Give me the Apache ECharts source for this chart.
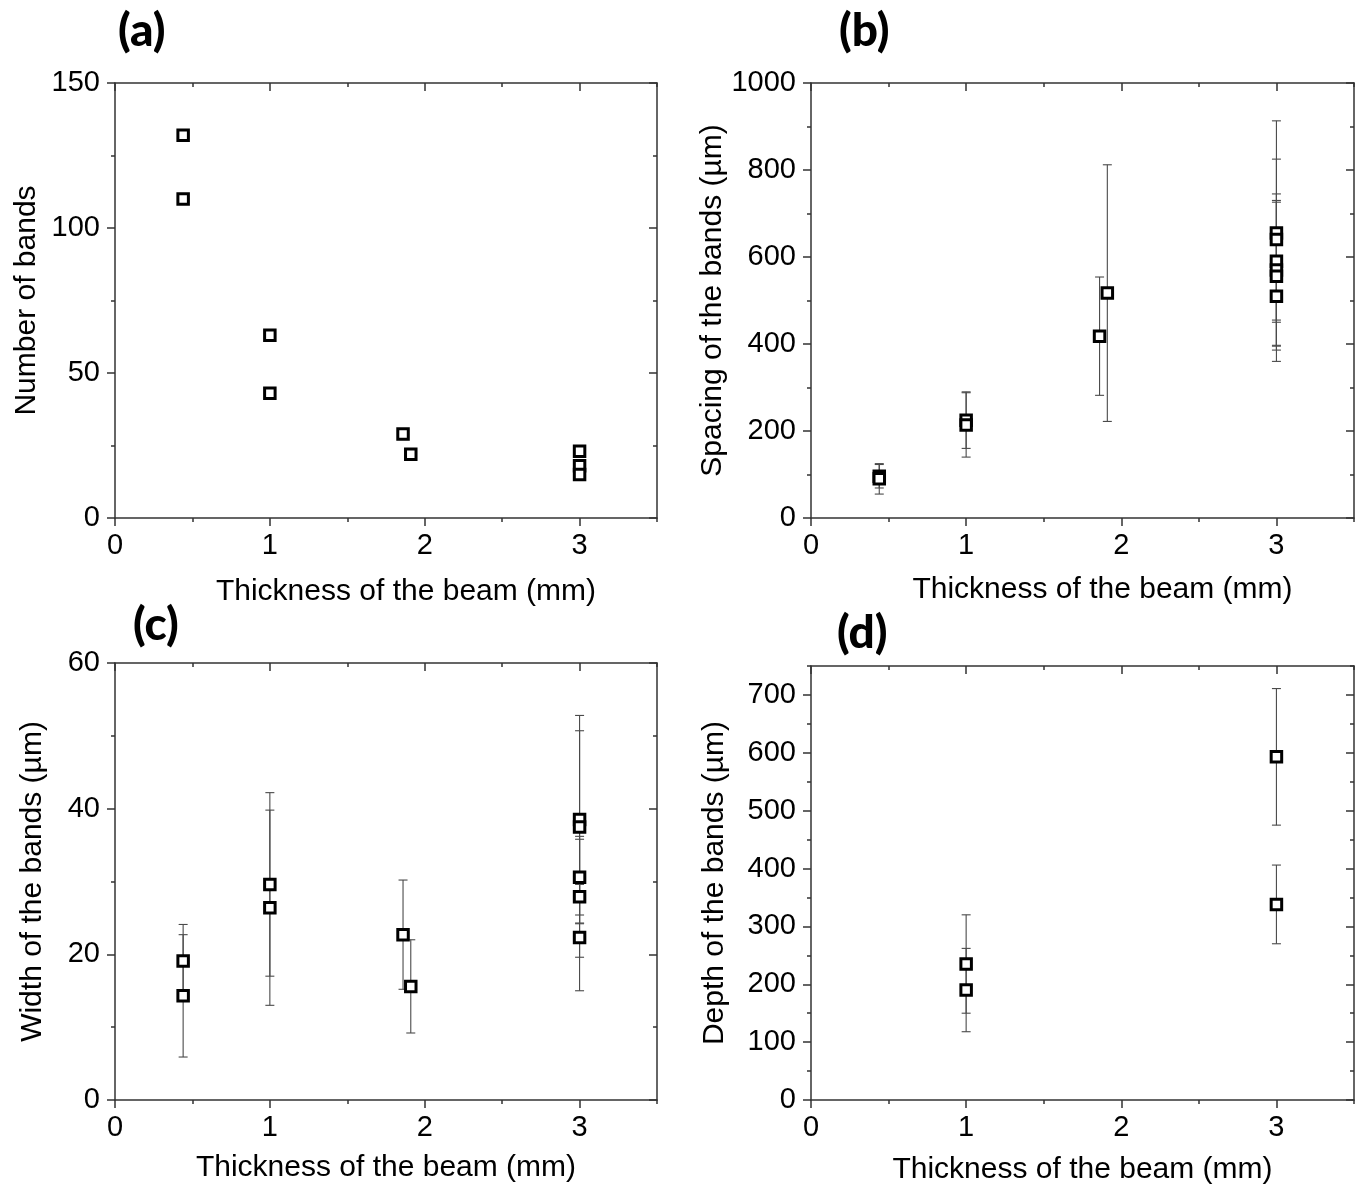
<!DOCTYPE html>
<html>
<head>
<meta charset="utf-8">
<title>Band measurements vs beam thickness</title>
<script src="https://cdn.jsdelivr.net/npm/echarts@6/dist/echarts.min.js"></script>
<style>
  html, body { margin: 0; padding: 0; background: #fff; }
  #chart { width: 1366px; height: 1187px; }
</style>
</head>
<body>
<div id="chart"></div>
<script>
// ---- data ----
// (a) number of bands
const aThickness = [0.44, 0.44, 1, 1, 1.86, 1.91, 3, 3, 3];
const aBands = [132, 110, 63, 43, 29, 22, 23, 18, 15];

// (b) spacing of the bands (µm), with standard deviation
const bThickness = [0.44, 0.44, 1, 1, 1.86, 1.91, 3, 3, 3, 3, 3, 3];
const bSpacing = [96, 90, 225, 214, 418, 517, 655, 640, 590, 570, 556, 510];
const bSpacingErr = [27, 35, 65, 74, 136, 295, 258, 185, 140, 175, 170, 150];

// (c) width of the bands (µm), with standard deviation
const cThickness = [0.44, 0.44, 1, 1, 1.86, 1.91, 3, 3, 3, 3, 3];
const cWidth = [19.1, 14.3, 29.6, 26.4, 22.7, 15.6, 38.5, 37.5, 30.6, 27.9, 22.3];
const cWidthErr = [5.0, 8.4, 12.6, 13.4, 7.5, 6.4, 14.3, 13.2, 5.2, 8.3, 7.3];

// (d) depth of the bands (µm), with standard deviation
const dThickness = [1, 1, 3, 3];
const dDepth = [235, 190, 593, 338];
const dDepthErr = [85, 72, 118, 68];

// tick values
const xMajorTicks = [0, 1, 2, 3];
const xMinorTicks = [0.5, 1.5, 2.5, 3.5];
const aMajorTicks = [0, 50, 100, 150];
const aMinorTicks = [25, 75, 125];
const bMajorTicks = [0, 200, 400, 600, 800, 1000];
const bMinorTicks = [100, 300, 500, 700, 900];
const cMajorTicks = [0, 20, 40, 60];
const cMinorTicks = [10, 30, 50];
const dMajorTicks = [0, 100, 200, 300, 400, 500, 600, 700];
const dMinorTicks = [50, 150, 250, 350, 450, 550, 650, 750];

const xTitle = 'Thickness of the beam (mm)';

// ---- chart building ----
const FONT = '"Liberation Sans", Arial, sans-serif';
const AXIS_LINE = { color: '#333', width: 1.5 };
const ERR_COLOR = '#4a4a4a';
const plain = v => String(v);

const grids = [], xAxes = [], yAxes = [], series = [], titles = [];

function pairs(xs, ys) { return xs.map((x, i) => [x, ys[i]]); }
function errRows(xs, ys, es) { return xs.map((x, i) => [x, ys[i] - es[i], ys[i] + es[i]]); }

function addPanel(p) {
  const g = grids.length;
  grids.push({ left: p.box[0], top: p.box[1], width: p.box[2], height: p.box[3], containLabel: false, outerBoundsMode: 'none' });

  const xc = { type: 'value', gridIndex: g, min: 0, max: 3.5, splitLine: { show: false } };
  const yc = { type: 'value', gridIndex: g, min: p.yMin, max: p.yMax, splitLine: { show: false } };
  const xi = xAxes.length, yi = yAxes.length;

  // bottom axis: line, major ticks, labels, title
  xAxes.push(Object.assign({}, xc, {
    position: 'bottom',
    name: xTitle, nameLocation: 'middle', nameGap: p.xGap,
    nameTextStyle: { fontFamily: FONT, fontSize: 30, color: '#000', padding: p.xPad || 0 },
    axisLine: { show: true, onZero: false, lineStyle: AXIS_LINE },
    axisTick: { show: true, inside: false, length: 8, lineStyle: AXIS_LINE, customValues: xMajorTicks },
    axisLabel: { show: true, customValues: xMajorTicks, formatter: plain, fontFamily: FONT, fontSize: 29, color: '#000', margin: 13 }
  }));
  // bottom minor ticks
  xAxes.push(Object.assign({}, xc, {
    position: 'bottom',
    axisLine: { show: false, onZero: false },
    axisTick: { show: true, inside: false, length: 4, lineStyle: AXIS_LINE, customValues: xMinorTicks },
    axisLabel: { show: false, customValues: xMinorTicks }
  }));
  // top mirror axis
  xAxes.push(Object.assign({}, xc, {
    position: 'top',
    axisLine: { show: true, onZero: false, lineStyle: AXIS_LINE },
    axisTick: { show: true, inside: true, length: 8, lineStyle: AXIS_LINE, customValues: xMajorTicks },
    axisLabel: { show: false, customValues: xMajorTicks }
  }));
  xAxes.push(Object.assign({}, xc, {
    position: 'top',
    axisLine: { show: false, onZero: false },
    axisTick: { show: true, inside: true, length: 4, lineStyle: AXIS_LINE, customValues: xMinorTicks },
    axisLabel: { show: false, customValues: xMinorTicks }
  }));

  // left axis: line, major ticks, labels, title
  yAxes.push(Object.assign({}, yc, {
    position: 'left',
    name: p.yTitle, nameLocation: 'middle', nameGap: p.yGap,
    nameTextStyle: { fontFamily: FONT, fontSize: 30, color: '#000' },
    axisLine: { show: true, onZero: false, lineStyle: AXIS_LINE },
    axisTick: { show: true, inside: false, length: 8, lineStyle: AXIS_LINE, customValues: p.yMajor },
    axisLabel: { show: true, customValues: p.yMajor, formatter: plain, fontFamily: FONT, fontSize: 29, color: '#000', margin: 15 }
  }));
  yAxes.push(Object.assign({}, yc, {
    position: 'left',
    axisLine: { show: false, onZero: false },
    axisTick: { show: true, inside: false, length: 4, lineStyle: AXIS_LINE, customValues: p.yMinor },
    axisLabel: { show: false, customValues: p.yMinor }
  }));
  // right mirror axis
  yAxes.push(Object.assign({}, yc, {
    position: 'right',
    axisLine: { show: true, onZero: false, lineStyle: AXIS_LINE },
    axisTick: { show: true, inside: true, length: 8, lineStyle: AXIS_LINE, customValues: p.yMajor },
    axisLabel: { show: false, customValues: p.yMajor }
  }));
  yAxes.push(Object.assign({}, yc, {
    position: 'right',
    axisLine: { show: false, onZero: false },
    axisTick: { show: true, inside: true, length: 4, lineStyle: AXIS_LINE, customValues: p.yMinor },
    axisLabel: { show: false, customValues: p.yMinor }
  }));

  if (p.err) {
    series.push({
      type: 'custom',
      xAxisIndex: xi, yAxisIndex: yi,
      z: 2,
      silent: true,
      encode: { x: 0, y: [1, 2] },
      data: p.err,
      renderItem: function (params, api) {
        const x = api.value(0);
        const lo = api.coord([x, api.value(1)]);
        const hi = api.coord([x, api.value(2)]);
        const cap = 4.5;
        const style = { stroke: ERR_COLOR, lineWidth: 1.1 };
        return {
          type: 'group',
          children: [
            { type: 'line', shape: { x1: lo[0], y1: lo[1], x2: hi[0], y2: hi[1] }, style: style },
            { type: 'line', shape: { x1: hi[0] - cap, y1: hi[1], x2: hi[0] + cap, y2: hi[1] }, style: style },
            { type: 'line', shape: { x1: lo[0] - cap, y1: lo[1], x2: lo[0] + cap, y2: lo[1] }, style: style }
          ]
        };
      }
    });
  }

  series.push({
    type: 'scatter',
    xAxisIndex: xi, yAxisIndex: yi,
    z: 3,
    symbol: 'rect',
    symbolSize: 10.5,
    itemStyle: { color: '#fff', borderColor: '#000', borderWidth: 3, opacity: 1 },
    data: p.points
  });

  titles.push({
    text: p.label,
    left: p.labelPos[0], top: p.labelPos[1],
    textStyle: { fontFamily: 'Lato, "Open Sans", sans-serif', fontWeight: 900, fontSize: 46, color: '#000' }
  });
}

addPanel({
  label: '(a)', labelPos: [113, 3],
  box: [115, 83, 542, 435],
  yMin: 0, yMax: 150, yMajor: aMajorTicks, yMinor: aMinorTicks,
  yTitle: 'Number of bands', yGap: 73, xGap: 59, xPad: [0, 0, 0, 40],
  points: pairs(aThickness, aBands)
});
addPanel({
  label: '(b)', labelPos: [834, 3],
  box: [811, 83, 543, 435],
  yMin: 0, yMax: 1000, yMajor: bMajorTicks, yMinor: bMinorTicks,
  yTitle: 'Spacing of the bands (µm)', yGap: 78, xGap: 57, xPad: [0, 0, 0, 40],
  points: pairs(bThickness, bSpacing),
  err: errRows(bThickness, bSpacing, bSpacingErr)
});
addPanel({
  label: '(c)', labelPos: [128, 597],
  box: [115, 663, 542, 437],
  yMin: 0, yMax: 60, yMajor: cMajorTicks, yMinor: cMinorTicks,
  yTitle: 'Width of the bands (µm)', yGap: 67, xGap: 53,
  points: pairs(cThickness, cWidth),
  err: errRows(cThickness, cWidth, cWidthErr)
});
addPanel({
  label: '(d)', labelPos: [832, 605],
  box: [811, 666, 543, 434],
  yMin: 0, yMax: 750, yMajor: dMajorTicks, yMinor: dMinorTicks,
  yTitle: 'Depth of the bands (µm)', yGap: 81, xGap: 55,
  points: pairs(dThickness, dDepth),
  err: errRows(dThickness, dDepth, dDepthErr)
});

const chart = echarts.init(document.getElementById('chart'), null, { renderer: 'canvas' });
chart.setOption({
  animation: false,
  backgroundColor: '#fff',
  title: titles,
  grid: grids,
  xAxis: xAxes,
  yAxis: yAxes,
  series: series
});
</script>
</body>
</html>
